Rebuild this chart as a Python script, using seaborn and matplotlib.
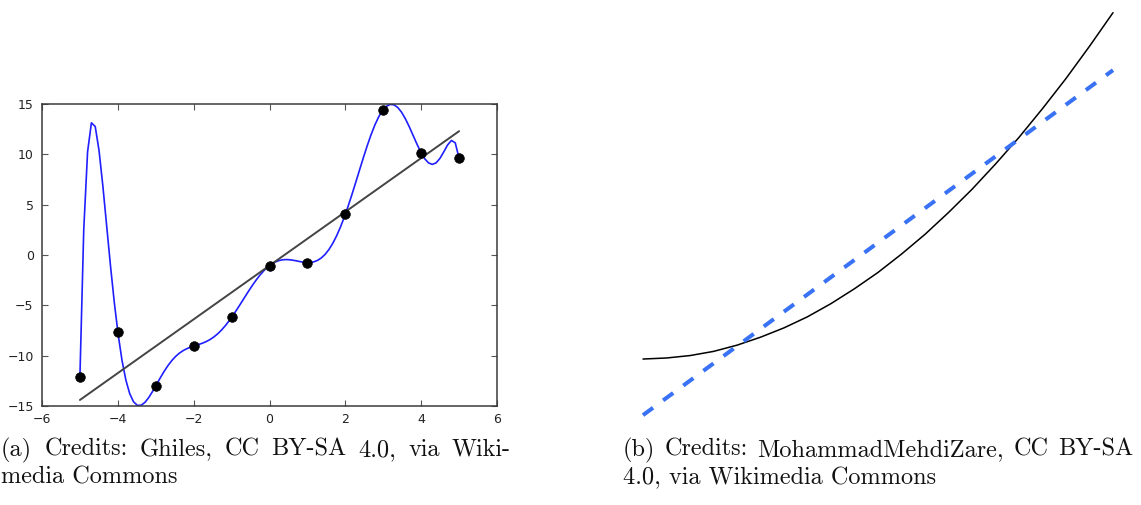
import numpy as np
import pandas as pd
import matplotlib
matplotlib.use('Agg')
import matplotlib.pyplot as plt
import matplotlib.transforms as mtransforms
import seaborn as sns

# ---------------- data ----------------
# Left panel: sample points
x_points = [-5, -4, -3, -2, -1, 0, 1, 2, 3, 4, 5]
y_points = [-12.1, -7.65, -13.0, -9.05, -6.2, -1.05, -0.75, 4.05, 14.45, 10.15, 9.6]
x_ticks = [-6, -4, -2, 0, 2, 4, 6]
y_ticks = [-15, -10, -5, 0, 5, 10, 15]

# Right panel: curve and its straight-line fit
curve_x = [0.0, 0.05, 0.1, 0.15, 0.2, 0.25, 0.3, 0.35, 0.4, 0.45, 0.5,
           0.55, 0.6, 0.65, 0.7, 0.75, 0.8, 0.85, 0.9, 0.95, 1.0]
curve_y = [0.0, 0.003, 0.01, 0.022, 0.04, 0.063, 0.09, 0.122, 0.16, 0.203, 0.25,
           0.303, 0.36, 0.423, 0.49, 0.563, 0.64, 0.723, 0.81, 0.903, 1.0]
fit_x = [0.0, 1.0]
fit_y = [-0.162, 0.834]

caption_a = ["(a) Credits: Ghiles, CC BY-SA 4.0, via Wiki-", "media Commons"]
caption_b = ["(b) Credits: MohammadMehdiZare, CC BY-SA", "4.0, via Wikimedia Commons"]

# ---------------- style ----------------
sns.set_style('ticks')
plt.rcParams['font.family'] = ['DejaVu Sans']

W, H = 1141, 505
fig = plt.figure(figsize=(W / 100, H / 100), dpi=100)
fig.patch.set_facecolor('white')

# ---------------- left panel ----------------
ax1 = fig.add_axes([42 / W, 1 - 406 / H, 455 / W, 302 / H])
df = pd.DataFrame({'x': x_points, 'y': y_points})
sns.regplot(data=df, x='x', y='y', order=10, ci=None, scatter=False, ax=ax1,
            line_kws=dict(color='#1f1fff', lw=1.2, zorder=2))
sns.regplot(data=df, x='x', y='y', ci=None, scatter=False, ax=ax1,
            line_kws=dict(color='#444444', lw=1.4, zorder=3))
sns.scatterplot(data=df, x='x', y='y', ax=ax1, color='black', s=48,
                edgecolor='black', linewidth=0.5, zorder=5)
ax1.set_xlim(-6, 6)
ax1.set_ylim(-15, 15)
ax1.set_xticks(x_ticks)
ax1.set_yticks(y_ticks)
ax1.set_xlabel('')
ax1.set_ylabel('')
ax1.tick_params(direction='in', top=True, right=True, length=4, width=0.8,
                color='#555555', labelsize=9, labelcolor='#222222')
ax1.tick_params(axis='y', pad=6)
ax1.tick_params(axis='x', pad=5)
for s in ax1.spines.values():
    s.set_color('#3a3a3a')
    s.set_linewidth(1.1)

# ---------------- right panel ----------------
ax2 = fig.add_axes([643 / W, 1 - 428.3 / H, 470 / W, 426.0 / H])
sns.lineplot(x=curve_x, y=curve_y, ax=ax2, color='black', lw=1.1, sort=False)
sns.lineplot(x=fit_x, y=fit_y, ax=ax2, color='#3a72f5', lw=2.9,
             linestyle=(0, (3.1, 3.1)), sort=False)
ax2.set_xlim(0, 1)
ax2.set_ylim(-0.2, 1.03)
ax2.axis('off')
for ln in ax2.lines:
    ln.set_clip_on(False)

# ---------------- captions ----------------
renderer = fig.canvas.get_renderer()
ident = mtransforms.IdentityTransform()
cap_kw = dict(fontsize=17.5, family='cmr10', va='baseline', ha='left', color='#111111')


def justified(line, x0, x1, ybase):
    words = line.split(' ')
    texts = [fig.text(0, H - ybase, w, transform=ident, **cap_kw) for w in words]
    widths = [t.get_window_extent(renderer).width for t in texts]
    gap = (x1 - x0 - sum(widths)) / (len(words) - 1)
    x = x0
    for t, w in zip(texts, widths):
        t.set_x(x)
        x += w + gap


justified(caption_a[0], 1, 511, 456)
fig.text(1, H - 484, caption_a[1], transform=ident, **cap_kw)
justified(caption_b[0], 623, 1133, 456)
fig.text(623, H - 484, caption_b[1], transform=ident, **cap_kw)

fig.savefig('out.png', dpi=100, facecolor='white')
